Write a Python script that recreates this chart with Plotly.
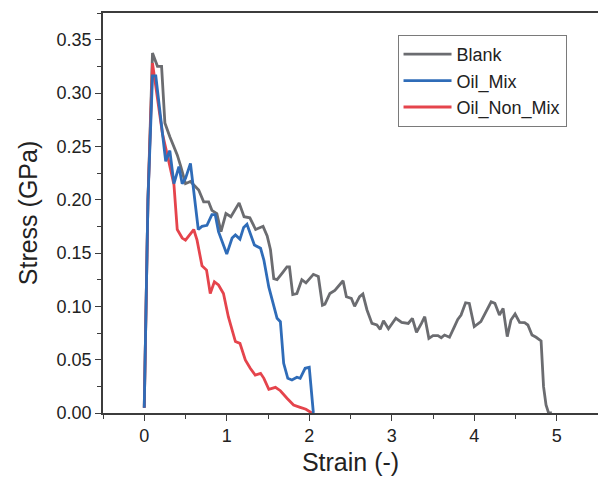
import plotly.graph_objects as go

# ---- data ----
blank_x = [0, 0.045, 0.10, 0.16, 0.21, 0.25, 0.31, 0.40, 0.44, 0.50, 0.56, 0.60, 0.66, 0.72, 0.78,
           0.82, 0.88, 0.93, 0.99, 1.05, 1.15, 1.21, 1.28, 1.35, 1.44, 1.49, 1.53, 1.57, 1.61,
           1.67, 1.73, 1.76, 1.80, 1.85, 1.91, 1.96, 2.05, 2.11, 2.16, 2.19, 2.25, 2.31, 2.41,
           2.45, 2.51, 2.55, 2.61, 2.65, 2.70, 2.76, 2.82, 2.86, 2.90, 2.96, 3.05, 3.12, 3.20,
           3.25, 3.30, 3.36, 3.40, 3.45, 3.50, 3.56, 3.60, 3.64, 3.70, 3.76, 3.80, 3.84, 3.895,
           3.94, 4.00, 4.08, 4.14, 4.205, 4.25, 4.305, 4.35, 4.40, 4.445, 4.495, 4.55, 4.61,
           4.65, 4.70, 4.75, 4.81, 4.84, 4.87, 4.90, 4.94]
blank_y = [0.005, 0.20, 0.3375, 0.325, 0.325, 0.272, 0.259, 0.242, 0.232, 0.215, 0.217, 0.214,
           0.209, 0.198, 0.198, 0.190, 0.187, 0.170, 0.187, 0.184, 0.197, 0.184, 0.183, 0.172,
           0.175, 0.166, 0.153, 0.126, 0.125, 0.131, 0.137, 0.137, 0.111, 0.112, 0.125, 0.122,
           0.130, 0.128, 0.101, 0.102, 0.112, 0.115, 0.124, 0.109, 0.1075, 0.100, 0.109, 0.1115,
           0.0966, 0.084, 0.0825, 0.0785, 0.0865, 0.079, 0.0888, 0.085, 0.084, 0.0888, 0.0757,
           0.084, 0.0903, 0.070, 0.0725, 0.0725, 0.0706, 0.0731, 0.071, 0.081, 0.0878, 0.0919,
           0.1034, 0.1028, 0.081, 0.0856, 0.095, 0.1043, 0.1028, 0.0919, 0.098, 0.0716, 0.0872,
           0.0928, 0.085, 0.0847, 0.0825, 0.0731, 0.071, 0.0675, 0.0247, 0.0075, 0.0003, 0.0]

oilmix_x = [0, 0.045, 0.10, 0.14, 0.26, 0.31, 0.36, 0.42, 0.46, 0.50, 0.56, 0.655, 0.70, 0.76,
            0.82, 0.86, 0.90, 1.00, 1.065, 1.105, 1.16, 1.205, 1.245, 1.295, 1.335, 1.41, 1.45,
            1.51, 1.57, 1.61, 1.65, 1.69, 1.74, 1.79, 1.85, 1.89, 1.95, 2.00, 2.05]
oilmix_y = [0.005, 0.20, 0.316, 0.316, 0.236, 0.246, 0.215, 0.231, 0.215, 0.220, 0.234, 0.172,
            0.175, 0.176, 0.186, 0.186, 0.170, 0.149, 0.164, 0.167, 0.163, 0.174, 0.177, 0.166,
            0.1575, 0.1544, 0.1434, 0.118, 0.0997, 0.0888, 0.0856, 0.0466, 0.0325, 0.0309,
            0.0335, 0.0325, 0.0419, 0.0428, 0.0]

nonmix_x = [0, 0.045, 0.10, 0.22, 0.30, 0.36, 0.40, 0.46, 0.50, 0.56, 0.60, 0.64, 0.70, 0.755,
            0.80, 0.85, 0.90, 0.96, 1.02, 1.105, 1.16, 1.225, 1.285, 1.345, 1.41, 1.45, 1.51,
            1.59, 1.65, 1.73, 1.81, 1.89, 1.96, 2.03]
nonmix_y = [0.005, 0.20, 0.328, 0.262, 0.235, 0.214, 0.172, 0.164, 0.162, 0.168, 0.172, 0.162,
            0.138, 0.134, 0.112, 0.123, 0.120, 0.112, 0.090, 0.067, 0.0653, 0.0497, 0.0419,
            0.0356, 0.0372, 0.0325, 0.0222, 0.0241, 0.0209, 0.0138, 0.0075, 0.0053, 0.0035, 0.0]

x_ticks = [0, 1, 2, 3, 4, 5]
y_ticks = [0.00, 0.05, 0.10, 0.15, 0.20, 0.25, 0.30, 0.35]
y_tick_labels = ["0.00", "0.05", "0.10", "0.15", "0.20", "0.25", "0.30", "0.35"]

FONT = "Liberation Sans, Arial, Helvetica, sans-serif"
AXIS_COLOR = "#3c3c3c"

fig = go.Figure()
fig.add_trace(go.Scatter(x=blank_x, y=blank_y, mode="lines", name="Blank",
                         line=dict(color="#6b6c70", width=2.8), legendrank=1))
fig.add_trace(go.Scatter(x=nonmix_x, y=nonmix_y, mode="lines", name="Oil_Non_Mix",
                         line=dict(color="#e5444c", width=2.8), legendrank=3))
fig.add_trace(go.Scatter(x=oilmix_x, y=oilmix_y, mode="lines", name="Oil_Mix",
                         line=dict(color="#2f6cb8", width=2.8), legendrank=2))

fig.update_layout(
    width=598, height=477,
    margin=dict(l=103, r=0, t=13, b=64),
    paper_bgcolor="white", plot_bgcolor="white",
    font=dict(family=FONT, size=18, color="#222222"),
    showlegend=True,
    legend=dict(x=0.595, y=0.945, xanchor="left", yanchor="top",
                bgcolor="white", bordercolor="#7a7a7a", borderwidth=1,
                font=dict(size=18, family=FONT, color="#222222"),
                itemwidth=48, entrywidth=170, entrywidthmode="pixels", tracegroupgap=0),
    xaxis=dict(range=[-0.5, 5.5], tickvals=x_ticks, ticktext=[str(v) for v in x_ticks],
               showgrid=False, zeroline=False, showline=True, linecolor=AXIS_COLOR,
               linewidth=1.6, mirror=True, ticks="outside", ticklen=6, tickwidth=1.4,
               tickcolor=AXIS_COLOR,
               minor=dict(dtick=0.5, tick0=0, ticks="outside", ticklen=4, tickwidth=1.2,
                          tickcolor=AXIS_COLOR, showgrid=False),
               tickfont=dict(size=18, family=FONT, color="#222222"),
               title=dict(text="Strain (-)", font=dict(size=25, family=FONT, color="#222222"),
                          standoff=8)),
    yaxis=dict(range=[0, 0.375], tickvals=y_ticks, ticktext=y_tick_labels,
               showgrid=False, zeroline=False, showline=True, linecolor=AXIS_COLOR,
               linewidth=1.6, ticks="outside", ticklen=6, tickwidth=1.4,
               tickcolor=AXIS_COLOR,
               minor=dict(dtick=0.025, tick0=0, ticks="outside", ticklen=4, tickwidth=1.2,
                          tickcolor=AXIS_COLOR, showgrid=False),
               tickfont=dict(size=18, family=FONT, color="#222222"),
               title=dict(text="Stress (GPa)", font=dict(size=25, family=FONT, color="#222222"),
                          standoff=12)),
)

fig.write_html("out.html")
